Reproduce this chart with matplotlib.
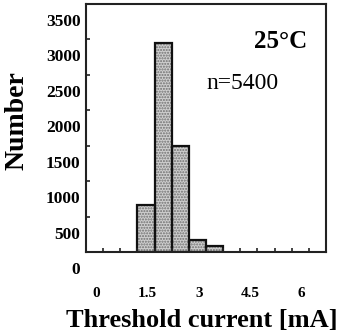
import matplotlib
matplotlib.use("Agg")
import matplotlib.pyplot as plt
from matplotlib.transforms import ScaledTranslation
from matplotlib.ticker import MultipleLocator

plt.rcParams["font.family"] = ["Liberation Serif", "DejaVu Serif"]

bin_left = [1.5, 2.0, 2.5, 3.0, 3.5]
counts = [660, 2950, 1500, 170, 90]
bin_width = 0.5
y_ticks = [0, 500, 1000, 1500, 2000, 2500, 3000, 3500]
x_ticks = [0, 1.5, 3, 4.5, 6]
x_ticklabels = ["0", "1.5", "3", "4.5", "6"]

fig = plt.figure(figsize=(3.44, 3.31), dpi=100)
ax = fig.add_axes([86 / 344, 1 - 252 / 331, 240 / 344, 248 / 331])

# stippled fill first, then black outlines on top
ax.bar(bin_left, counts, width=bin_width, align="edge",
       facecolor="#cfcfcf", edgecolor="#6f6f6f", hatch="......", linewidth=0)
ax.bar(bin_left, counts, width=bin_width, align="edge",
       fill=False, edgecolor="#111111", linewidth=1.6)

ax.set_xlim(0, 7)
ax.set_ylim(0, 3500)

ax.set_yticks(y_ticks)
ax.set_yticklabels([str(v) for v in y_ticks], fontsize=12.5, fontweight="bold")
ax.set_xticks(x_ticks)
ax.set_xticklabels(x_ticklabels, fontsize=11, fontweight="bold")
ax.xaxis.set_minor_locator(MultipleLocator(0.5))

ax.tick_params(axis="both", which="both", direction="in", length=3, width=1.2,
               color="#222222")
ax.tick_params(axis="y", pad=4)
ax.tick_params(axis="x", pad=25)

# the scanned labels sit a bit off their ticks
for lab in ax.get_yticklabels():
    lab.set_transform(lab.get_transform() + ScaledTranslation(0, -16 / 100, fig.dpi_scale_trans))
for lab in ax.get_xticklabels():
    lab.set_transform(lab.get_transform() + ScaledTranslation(10 / 100, 0, fig.dpi_scale_trans))

for sp in ax.spines.values():
    sp.set_linewidth(1.5)
    sp.set_color("#222222")

fig.text(17 / 344, 1 - 121 / 331, "Number", fontsize=20, fontweight="bold",
         rotation=90, ha="center", va="center")
fig.text(66 / 344, 1 - 320 / 331, "Threshold current [mA]", fontsize=19,
         fontweight="bold", ha="left", va="center")

ax.text(0.92, 0.85, "25\u00b0C", transform=ax.transAxes, fontsize=18,
        fontweight="bold", ha="right", va="center")
ax.text(0.5, 0.68, "n=5400", transform=ax.transAxes, fontsize=17,
        ha="left", va="center")

fig.savefig("out.png", dpi=100)
